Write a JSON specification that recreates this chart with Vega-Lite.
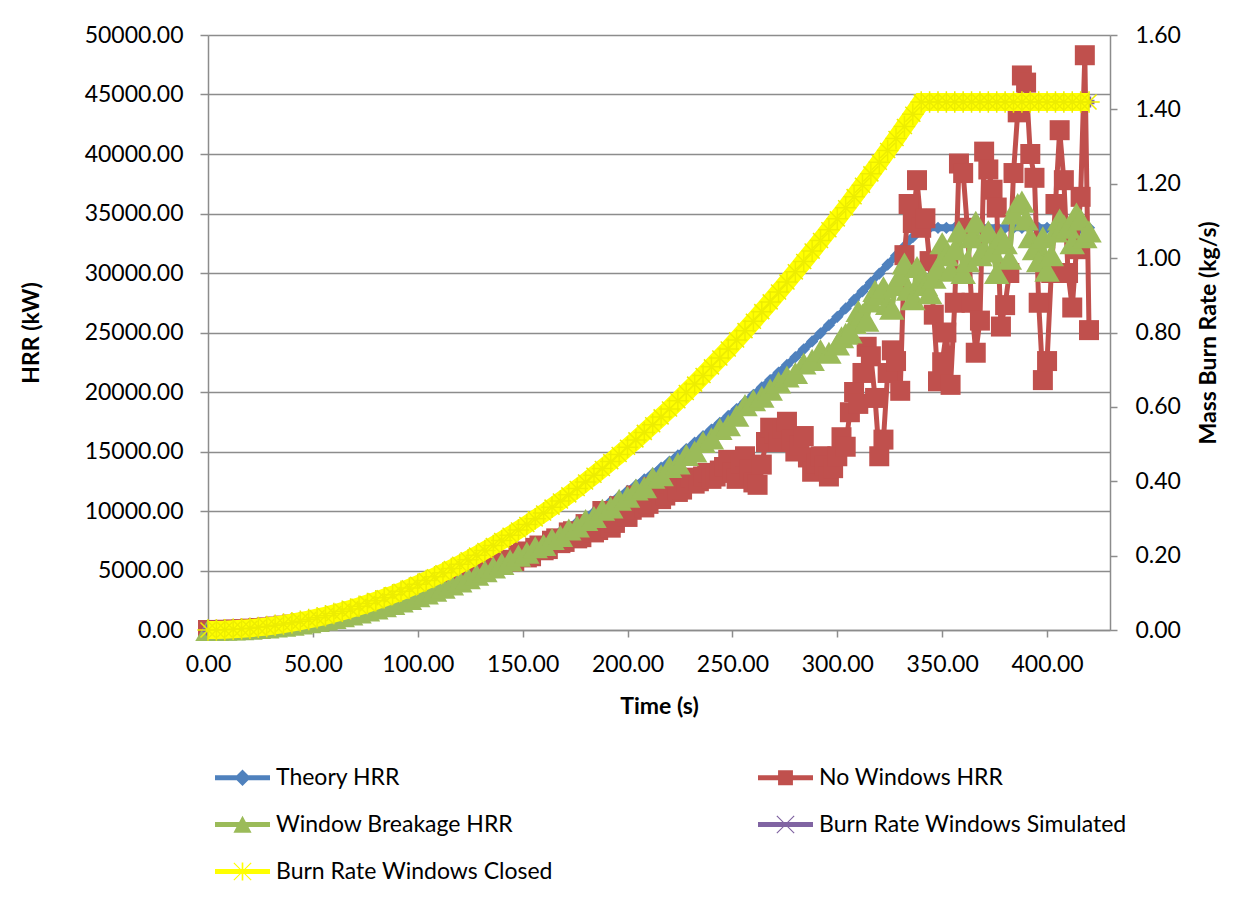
{
"$schema": "https://vega.github.io/schema/vega-lite/v6.json",
"width": 902, "height": 595,
"autosize": {"type": "none"},
"padding": {"left": 208, "top": 35, "right": 145, "bottom": 279},
"background": "white",
"config": {"font": "Lato", "view": {"stroke": null}},
"datasets": {
"theory": [{"t":0,"v":0},{"t":4,"v":5},{"t":8,"v":19},{"t":12,"v":42},{"t":16,"v":75},{"t":20,"v":117},{"t":24,"v":168},{"t":28,"v":229},{"t":32,"v":299},{"t":36,"v":379},{"t":40,"v":468},{"t":44,"v":566},{"t":48,"v":674},{"t":52,"v":791},{"t":56,"v":917},{"t":60,"v":1053},{"t":64,"v":1198},{"t":68,"v":1352},{"t":72,"v":1516},{"t":76,"v":1689},{"t":80,"v":1871},{"t":84,"v":2063},{"t":88,"v":2264},{"t":92,"v":2475},{"t":96,"v":2695},{"t":100,"v":2924},{"t":104,"v":3163},{"t":108,"v":3411},{"t":112,"v":3668},{"t":116,"v":3935},{"t":120,"v":4211},{"t":124,"v":4496},{"t":128,"v":4791},{"t":132,"v":5095},{"t":136,"v":5408},{"t":140,"v":5731},{"t":144,"v":6063},{"t":148,"v":6405},{"t":152,"v":6756},{"t":156,"v":7116},{"t":160,"v":7485},{"t":164,"v":7864},{"t":168,"v":8253},{"t":172,"v":8650},{"t":176,"v":9057},{"t":180,"v":9474},{"t":184,"v":9900},{"t":188,"v":10335},{"t":192,"v":10779},{"t":196,"v":11233},{"t":200,"v":11696},{"t":204,"v":12169},{"t":208,"v":12650},{"t":212,"v":13142},{"t":216,"v":13642},{"t":220,"v":14152},{"t":224,"v":14671},{"t":228,"v":15200},{"t":232,"v":15738},{"t":236,"v":16286},{"t":240,"v":16842},{"t":244,"v":17408},{"t":248,"v":17984},{"t":252,"v":18569},{"t":256,"v":19163},{"t":260,"v":19766},{"t":264,"v":20379},{"t":268,"v":21001},{"t":272,"v":21633},{"t":276,"v":22274},{"t":280,"v":22924},{"t":284,"v":23584},{"t":288,"v":24253},{"t":292,"v":24931},{"t":296,"v":25619},{"t":300,"v":26316},{"t":304,"v":27022},{"t":308,"v":27738},{"t":312,"v":28463},{"t":316,"v":29198},{"t":320,"v":29942},{"t":324,"v":30695},{"t":328,"v":31458},{"t":332,"v":32230},{"t":336,"v":33011},{"t":340,"v":33800},{"t":344,"v":33800},{"t":348,"v":33800},{"t":352,"v":33800},{"t":356,"v":33800},{"t":360,"v":33800},{"t":364,"v":33800},{"t":368,"v":33800},{"t":372,"v":33800},{"t":376,"v":33800},{"t":380,"v":33800},{"t":384,"v":33800},{"t":388,"v":33800},{"t":392,"v":33800},{"t":396,"v":33800},{"t":400,"v":33800},{"t":404,"v":33800},{"t":408,"v":33800},{"t":412,"v":33800},{"t":416,"v":33800},{"t":420,"v":33800}],
"nowin": [{"t":0,"v":0},{"t":4,"v":5},{"t":8,"v":18},{"t":12,"v":41},{"t":16,"v":73},{"t":20,"v":115},{"t":24,"v":165},{"t":28,"v":224},{"t":32,"v":293},{"t":36,"v":371},{"t":40,"v":459},{"t":44,"v":555},{"t":48,"v":661},{"t":52,"v":775},{"t":56,"v":899},{"t":60,"v":1032},{"t":64,"v":1174},{"t":68,"v":1325},{"t":72,"v":1486},{"t":76,"v":1655},{"t":80,"v":1834},{"t":84,"v":2022},{"t":88,"v":2219},{"t":92,"v":2426},{"t":96,"v":2641},{"t":100,"v":2866},{"t":104,"v":3100},{"t":108,"v":3343},{"t":112,"v":3595},{"t":116,"v":3856},{"t":120,"v":4127},{"t":124,"v":4406},{"t":128,"v":4695},{"t":132,"v":4993},{"t":136,"v":5300},{"t":140,"v":5560},{"t":142,"v":5900},{"t":144,"v":5750},{"t":146,"v":5800},{"t":148,"v":6300},{"t":150,"v":6600},{"t":152,"v":6100},{"t":154,"v":6200},{"t":156,"v":6900},{"t":158,"v":7100},{"t":160,"v":6700},{"t":162,"v":6800},{"t":164,"v":7500},{"t":166,"v":7700},{"t":168,"v":7300},{"t":170,"v":7400},{"t":172,"v":8200},{"t":174,"v":8300},{"t":176,"v":7700},{"t":178,"v":7800},{"t":180,"v":8900},{"t":182,"v":8700},{"t":184,"v":8200},{"t":186,"v":8400},{"t":188,"v":10000},{"t":190,"v":9600},{"t":192,"v":8600},{"t":194,"v":9000},{"t":196,"v":10400},{"t":198,"v":9900},{"t":200,"v":9500},{"t":202,"v":10100},{"t":204,"v":11300},{"t":206,"v":10900},{"t":208,"v":10300},{"t":210,"v":10600},{"t":212,"v":12000},{"t":214,"v":11600},{"t":216,"v":11000},{"t":218,"v":11300},{"t":220,"v":12300},{"t":222,"v":12100},{"t":224,"v":11600},{"t":226,"v":11800},{"t":228,"v":12500},{"t":230,"v":12800},{"t":232,"v":12300},{"t":234,"v":12500},{"t":236,"v":12900},{"t":238,"v":13200},{"t":240,"v":12700},{"t":242,"v":12900},{"t":244,"v":13400},{"t":246,"v":13700},{"t":248,"v":14300},{"t":250,"v":13200},{"t":252,"v":12700},{"t":254,"v":14000},{"t":256,"v":14600},{"t":258,"v":13500},{"t":260,"v":12400},{"t":262,"v":12200},{"t":264,"v":13900},{"t":266,"v":15800},{"t":268,"v":17000},{"t":270,"v":16500},{"t":272,"v":15800},{"t":274,"v":16900},{"t":276,"v":17500},{"t":278,"v":16000},{"t":280,"v":15000},{"t":282,"v":15500},{"t":284,"v":16300},{"t":286,"v":14500},{"t":288,"v":13300},{"t":290,"v":14000},{"t":292,"v":14600},{"t":294,"v":13800},{"t":296,"v":12900},{"t":298,"v":13600},{"t":300,"v":14600},{"t":302,"v":16200},{"t":304,"v":15400},{"t":306,"v":18300},{"t":308,"v":20000},{"t":310,"v":19000},{"t":312,"v":21600},{"t":314,"v":23800},{"t":316,"v":23000},{"t":318,"v":19500},{"t":320,"v":14600},{"t":322,"v":16000},{"t":324,"v":21600},{"t":326,"v":23500},{"t":328,"v":22600},{"t":330,"v":20100},{"t":332,"v":31500},{"t":334,"v":35800},{"t":336,"v":34200},{"t":338,"v":37800},{"t":340,"v":33800},{"t":342,"v":34600},{"t":344,"v":31000},{"t":346,"v":26500},{"t":348,"v":20900},{"t":350,"v":22500},{"t":352,"v":25000},{"t":354,"v":20600},{"t":356,"v":27500},{"t":358,"v":39200},{"t":360,"v":38400},{"t":362,"v":33800},{"t":364,"v":27500},{"t":366,"v":23300},{"t":368,"v":26000},{"t":370,"v":40200},{"t":372,"v":38700},{"t":374,"v":37000},{"t":376,"v":35500},{"t":378,"v":25500},{"t":380,"v":27300},{"t":382,"v":30000},{"t":384,"v":38400},{"t":386,"v":43500},{"t":388,"v":46600},{"t":390,"v":46000},{"t":392,"v":40000},{"t":394,"v":38000},{"t":396,"v":27500},{"t":398,"v":21000},{"t":400,"v":22600},{"t":402,"v":30000},{"t":404,"v":35800},{"t":406,"v":42000},{"t":408,"v":37800},{"t":410,"v":30000},{"t":412,"v":27100},{"t":414,"v":32000},{"t":416,"v":36400},{"t":418,"v":48300},{"t":420,"v":25200}],
"wb": [{"t":0,"v":0},{"t":4,"v":5},{"t":8,"v":18},{"t":12,"v":41},{"t":16,"v":73},{"t":20,"v":113},{"t":24,"v":163},{"t":28,"v":222},{"t":32,"v":290},{"t":36,"v":368},{"t":40,"v":454},{"t":44,"v":549},{"t":48,"v":654},{"t":52,"v":767},{"t":56,"v":889},{"t":60,"v":1021},{"t":64,"v":1162},{"t":68,"v":1311},{"t":72,"v":1470},{"t":76,"v":1638},{"t":80,"v":1815},{"t":84,"v":2001},{"t":88,"v":2196},{"t":92,"v":2401},{"t":96,"v":2614},{"t":100,"v":2836},{"t":104,"v":3068},{"t":108,"v":3309},{"t":112,"v":3558},{"t":116,"v":3817},{"t":120,"v":4085},{"t":124,"v":4361},{"t":128,"v":4647},{"t":132,"v":4942},{"t":136,"v":5246},{"t":140,"v":5559},{"t":144,"v":5850},{"t":148,"v":6250},{"t":152,"v":6500},{"t":156,"v":6950},{"t":160,"v":7150},{"t":164,"v":7650},{"t":168,"v":7900},{"t":172,"v":8450},{"t":176,"v":8700},{"t":180,"v":9250},{"t":184,"v":9500},{"t":188,"v":10100},{"t":192,"v":10300},{"t":196,"v":10950},{"t":200,"v":11200},{"t":204,"v":11800},{"t":208,"v":12000},{"t":212,"v":12800},{"t":216,"v":13000},{"t":220,"v":13700},{"t":224,"v":14000},{"t":228,"v":14700},{"t":232,"v":15000},{"t":236,"v":15800},{"t":240,"v":16100},{"t":244,"v":16900},{"t":248,"v":17200},{"t":252,"v":18000},{"t":256,"v":18900},{"t":260,"v":19300},{"t":264,"v":19600},{"t":268,"v":20200},{"t":272,"v":20800},{"t":276,"v":21300},{"t":280,"v":21600},{"t":284,"v":22400},{"t":288,"v":22700},{"t":292,"v":23500},{"t":296,"v":23300},{"t":300,"v":24000},{"t":302,"v":24600},{"t":304,"v":24900},{"t":306,"v":25000},{"t":308,"v":25800},{"t":310,"v":26800},{"t":312,"v":26500},{"t":314,"v":26000},{"t":316,"v":27600},{"t":318,"v":28500},{"t":320,"v":28200},{"t":322,"v":28800},{"t":324,"v":27400},{"t":326,"v":27000},{"t":328,"v":29000},{"t":330,"v":29800},{"t":332,"v":30800},{"t":334,"v":28600},{"t":336,"v":27800},{"t":338,"v":30500},{"t":340,"v":29500},{"t":342,"v":29000},{"t":344,"v":28300},{"t":346,"v":29600},{"t":348,"v":30500},{"t":350,"v":32500},{"t":352,"v":31500},{"t":354,"v":30200},{"t":356,"v":32000},{"t":358,"v":33500},{"t":360,"v":30000},{"t":362,"v":31000},{"t":364,"v":33000},{"t":366,"v":34300},{"t":368,"v":31500},{"t":370,"v":32000},{"t":372,"v":33500},{"t":374,"v":31800},{"t":376,"v":30000},{"t":378,"v":33000},{"t":380,"v":32500},{"t":382,"v":31200},{"t":384,"v":35000},{"t":386,"v":35800},{"t":388,"v":36000},{"t":390,"v":34500},{"t":392,"v":33000},{"t":394,"v":32000},{"t":396,"v":31000},{"t":398,"v":33000},{"t":400,"v":30200},{"t":402,"v":31500},{"t":404,"v":33500},{"t":406,"v":34500},{"t":408,"v":34000},{"t":410,"v":33800},{"t":412,"v":32500},{"t":414,"v":35000},{"t":416,"v":34500},{"t":418,"v":33000},{"t":420,"v":33500}],
"sim": [{"t":0,"r":0},{"t":20,"r":0.0049},{"t":40,"r":0.0197},{"t":60,"r":0.0442},{"t":80,"r":0.0786},{"t":100,"r":0.1228},{"t":120,"r":0.1769},{"t":140,"r":0.2408},{"t":160,"r":0.3145},{"t":180,"r":0.398},{"t":200,"r":0.4914},{"t":220,"r":0.5945},{"t":240,"r":0.7076},{"t":260,"r":0.8304},{"t":280,"r":0.9631},{"t":300,"r":1.1056},{"t":320,"r":1.2579},{"t":340,"r":1.42},{"t":360,"r":1.42},{"t":380,"r":1.42},{"t":400,"r":1.42},{"t":420,"r":1.42}],
"closed": [{"t":0,"r":0},{"t":4,"r":0.0002},{"t":8,"r":0.0008},{"t":12,"r":0.0018},{"t":16,"r":0.0031},{"t":20,"r":0.0049},{"t":24,"r":0.0071},{"t":28,"r":0.0096},{"t":32,"r":0.0126},{"t":36,"r":0.0159},{"t":40,"r":0.0197},{"t":44,"r":0.0238},{"t":48,"r":0.0283},{"t":52,"r":0.0332},{"t":56,"r":0.0385},{"t":60,"r":0.0442},{"t":64,"r":0.0503},{"t":68,"r":0.0568},{"t":72,"r":0.0637},{"t":76,"r":0.071},{"t":80,"r":0.0786},{"t":84,"r":0.0867},{"t":88,"r":0.0951},{"t":92,"r":0.104},{"t":96,"r":0.1132},{"t":100,"r":0.1228},{"t":104,"r":0.1329},{"t":108,"r":0.1433},{"t":112,"r":0.1541},{"t":116,"r":0.1653},{"t":120,"r":0.1769},{"t":124,"r":0.1889},{"t":128,"r":0.2013},{"t":132,"r":0.214},{"t":136,"r":0.2272},{"t":140,"r":0.2408},{"t":144,"r":0.2547},{"t":148,"r":0.2691},{"t":152,"r":0.2838},{"t":156,"r":0.2989},{"t":160,"r":0.3145},{"t":164,"r":0.3304},{"t":168,"r":0.3467},{"t":172,"r":0.3634},{"t":176,"r":0.3805},{"t":180,"r":0.398},{"t":184,"r":0.4159},{"t":188,"r":0.4342},{"t":192,"r":0.4528},{"t":196,"r":0.4719},{"t":200,"r":0.4914},{"t":204,"r":0.5112},{"t":208,"r":0.5314},{"t":212,"r":0.5521},{"t":216,"r":0.5731},{"t":220,"r":0.5945},{"t":224,"r":0.6164},{"t":228,"r":0.6386},{"t":232,"r":0.6612},{"t":236,"r":0.6842},{"t":240,"r":0.7076},{"t":244,"r":0.7313},{"t":248,"r":0.7555},{"t":252,"r":0.7801},{"t":256,"r":0.805},{"t":260,"r":0.8304},{"t":264,"r":0.8561},{"t":268,"r":0.8823},{"t":272,"r":0.9088},{"t":276,"r":0.9357},{"t":280,"r":0.9631},{"t":284,"r":0.9908},{"t":288,"r":1.0189},{"t":292,"r":1.0474},{"t":296,"r":1.0763},{"t":300,"r":1.1056},{"t":304,"r":1.1352},{"t":308,"r":1.1653},{"t":312,"r":1.1958},{"t":316,"r":1.2266},{"t":320,"r":1.2579},{"t":324,"r":1.2895},{"t":328,"r":1.3216},{"t":332,"r":1.354},{"t":336,"r":1.3868},{"t":340,"r":1.42},{"t":344,"r":1.42},{"t":348,"r":1.42},{"t":352,"r":1.42},{"t":356,"r":1.42},{"t":360,"r":1.42},{"t":364,"r":1.42},{"t":368,"r":1.42},{"t":372,"r":1.42},{"t":376,"r":1.42},{"t":380,"r":1.42},{"t":384,"r":1.42},{"t":388,"r":1.42},{"t":392,"r":1.42},{"t":396,"r":1.42},{"t":400,"r":1.42},{"t":404,"r":1.42},{"t":408,"r":1.42},{"t":412,"r":1.42},{"t":416,"r":1.42},{"t":420,"r":1.42}],
"legend": [{"s":"Theory HRR"},{"s":"Window Breakage HRR"},{"s":"Burn Rate Windows Closed"},{"s":"No Windows HRR"},{"s":"Burn Rate Windows Simulated"}]
},
"encoding": {
  "x": {"field": "t", "type": "quantitative",
    "scale": {"domain": [0, 430], "nice": false, "zero": false},
    "axis": {"title": "Time (s)", "format": ".2f", "values": [0,50,100,150,200,250,300,350,400],
      "grid": false, "domainColor": "#8c8c8c", "domainWidth": 1.5, "tickColor": "#8c8c8c", "tickWidth": 1.5, "tickSize": 7,
      "labelPadding": 16, "labelFontSize": 23, "labelColor": "#000000", "labelFont": "Lato", "labelFlush": false,
      "titleFontSize": 23, "titleFont": "Lato", "titleFontWeight": "bold", "titleColor": "#000000", "titlePadding": 19}}
},
"layer": [
  {
    "encoding": {
      "y": {"field": "v", "type": "quantitative",
        "scale": {"domain": [0, 50000], "nice": false},
        "axis": {"orient": "left", "title": "HRR (kW)", "format": ".2f", "values": [0,5000,10000,15000,20000,25000,30000,35000,40000,45000,50000],
          "grid": true, "gridColor": "#8c8c8c", "gridWidth": 1.5, "domainColor": "#8c8c8c", "domainWidth": 1.5, "tickColor": "#8c8c8c", "tickWidth": 1.5, "tickSize": 8,
          "labelPadding": 17, "labelFontSize": 23, "labelColor": "#000000", "labelFont": "Lato",
          "titleFontSize": 23, "titleFont": "Lato", "titleFontWeight": "bold", "titleColor": "#000000", "titlePadding": 41}}
    },
    "layer": [
      {"data": {"name": "theory"}, "mark": {"type": "line", "color": "#4F81BD", "strokeWidth": 7}},
      {"data": {"name": "theory"}, "mark": {"type": "point", "shape": "diamond", "filled": true, "size": 150, "color": "#4F81BD", "opacity": 1}},
      {"data": {"name": "nowin"}, "mark": {"type": "line", "color": "#C0504D", "strokeWidth": 5}},
      {"data": {"name": "nowin"}, "mark": {"type": "point", "shape": "square", "filled": true, "size": 400, "color": "#C0504D", "opacity": 1}},
      {"data": {"name": "wb"}, "mark": {"type": "line", "color": "#9BBB59", "strokeWidth": 5}},
      {"data": {"name": "wb"}, "mark": {"type": "point", "shape": "triangle-up", "filled": true, "size": 650, "color": "#9BBB59", "opacity": 1}},
      {"data": {"name": "legend"}, "transform": [{"filter": "false"}],
        "mark": {"type": "point", "filled": true, "opacity": 1},
        "encoding": {
          "color": {"field": "s", "type": "nominal",
            "scale": {"domain": ["Theory HRR","Window Breakage HRR","Burn Rate Windows Closed","No Windows HRR","Burn Rate Windows Simulated"],
                      "range": ["#4F81BD","#9BBB59","#FFFF00","#C0504D","#8064A2"]},
            "legend": {"orient": "none", "legendX": 7, "legendY": 715, "columns": 2, "columnPadding": 205, "rowPadding": 7,
              "symbolSize": 3025, "symbolStrokeWidth": 0, "labelFontSize": 23, "labelFont": "Lato", "labelColor": "#000000", "labelOffset": 6,
              "labelLimit": 600, "title": null, "padding": 0}},
          "shape": {"field": "s", "type": "nominal",
            "scale": {"domain": ["Theory HRR","Window Breakage HRR","Burn Rate Windows Closed","No Windows HRR","Burn Rate Windows Simulated"],
                      "range": [
                        "M-1,-0.09H1V0.09H-1Z M0,-0.3L0.3,0L0,0.3L-0.3,0Z",
                        "M-1,-0.09H1V0.09H-1Z M0,-0.32L0.33,0.3H-0.33Z",
                        "M-1,-0.09H1V0.09H-1Z M-0.03,-0.33H0.03V0.33H-0.03Z M-0.33,-0.3L-0.3,-0.33L0.33,0.3L0.3,0.33Z M0.3,-0.33L0.33,-0.3L-0.3,0.33L-0.33,0.3Z",
                        "M-1,-0.09H1V0.09H-1Z M-0.27,-0.27H0.27V0.27H-0.27Z",
                        "M-1,-0.09H1V0.09H-1Z M-0.33,-0.3L-0.3,-0.33L0.33,0.3L0.3,0.33Z M0.3,-0.33L0.33,-0.3L-0.3,0.33L-0.33,0.3Z"]},
            "legend": {"orient": "none", "legendX": 7, "legendY": 715, "columns": 2, "columnPadding": 205, "rowPadding": 7,
              "symbolSize": 3025, "symbolStrokeWidth": 0, "labelFontSize": 23, "labelFont": "Lato", "labelColor": "#000000", "labelOffset": 6,
              "labelLimit": 600, "title": null, "padding": 0}}
        }}
    ]
  },
  {
    "encoding": {
      "y": {"field": "r", "type": "quantitative",
        "scale": {"domain": [0, 1.6], "nice": false},
        "axis": {"orient": "right", "title": "Mass Burn Rate (kg/s)", "format": ".2f", "values": [0,0.2,0.4,0.6,0.8,1.0,1.2,1.4,1.6],
          "grid": false, "domainColor": "#8c8c8c", "domainWidth": 1.5, "tickColor": "#8c8c8c", "tickWidth": 1.5, "tickSize": 7,
          "labelPadding": 18, "labelFontSize": 23, "labelColor": "#000000", "labelFont": "Lato",
          "titleFontSize": 23, "titleFont": "Lato", "titleFontWeight": "bold", "titleColor": "#000000", "titlePadding": 40, "titleAngle": 270}}
    },
    "layer": [
      {"data": {"name": "sim"}, "mark": {"type": "line", "color": "#8064A2", "strokeWidth": 5}},
      {"data": {"name": "sim"}, "mark": {"type": "point", "shape": "cross", "filled": true, "size": 120, "color": "#8064A2", "opacity": 1}},
      {"data": {"name": "closed"}, "mark": {"type": "line", "color": "#FFFF00", "strokeWidth": 18}},
      {"data": {"name": "closed"}, "mark": {"type": "point", "shape": "M-1,0L1,0M0,-1L0,1M-0.7,-0.7L0.7,0.7M-0.7,0.7L0.7,-0.7", "filled": false, "size": 460, "stroke": "#EDED00", "strokeWidth": 1.5, "opacity": 1}}
    ]
  }
],
"resolve": {"scale": {"y": "independent"}}
}
